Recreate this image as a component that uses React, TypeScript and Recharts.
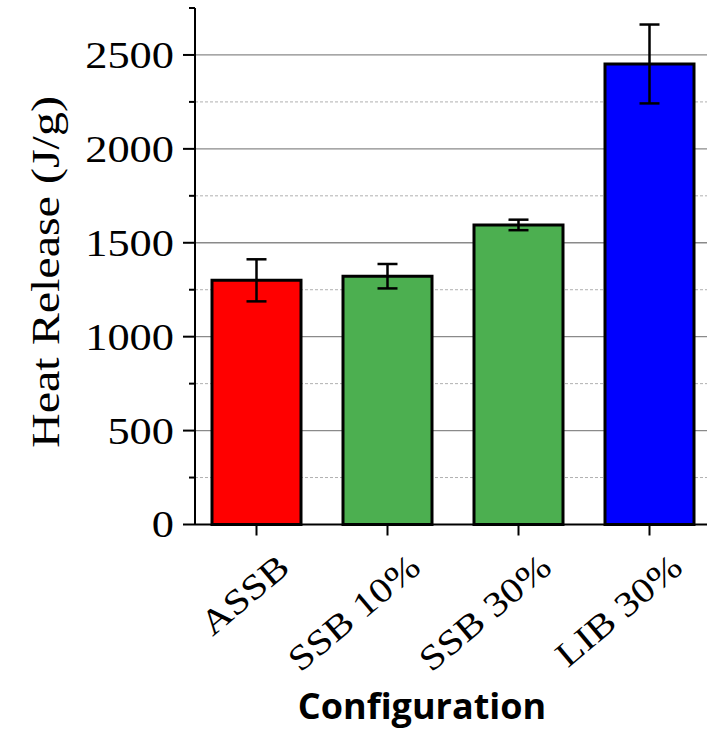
import React from 'react';
import { BarChart, Bar, XAxis, YAxis, CartesianGrid, ErrorBar, Cell, Label } from 'recharts';

const configs = ['ASSB', 'SSB 10%', 'SSB 30%', 'LIB 30%'];
const heatRelease = [1300, 1322, 1595, 2452];
const heatError = [112, 65, 28, 210];
const barColors = ['#ff0000', '#4caf50', '#4caf50', '#0000ff'];

const yTicks = [0, 250, 500, 750, 1000, 1250, 1500, 1750, 2000, 2250, 2500, 2750];
const majorGrid = [500, 1000, 1500, 2000, 2500];
const minorGrid = [250, 750, 1250, 1750, 2250];

const data = configs.map((name, i) => ({ name, value: heatRelease[i], err: heatError[i] }));

const serif = '"Liberation Serif", "Times New Roman", serif';

const YTick = (props: any) => {
    const { x, y, payload } = props;
    const major = payload.value % 500 === 0 && payload.value <= 2500;
    return (
        <g>
            <line x1={x - (major ? 12 : 6)} x2={x} y1={y} y2={y} stroke="#000" strokeWidth={2} />
            {major && (
                <text
                    transform={`translate(${x - 21},${y}) scale(1.2,1)`}
                    textAnchor="end"
                    dy="0.35em"
                    fontSize={37}
                    fontFamily={serif}
                    fill="#000"
                >
                    {payload.value}
                </text>
            )}
        </g>
    );
};

const XTick = (props: any) => {
    const { x, y, payload } = props;
    return (
        <g>
            <line x1={x} x2={x} y1={y} y2={y + 11} stroke="#000" strokeWidth={2} />
            <text
                transform={`translate(${x + 35},${y + 46}) rotate(-40) scale(1.18,1)`}
                textAnchor="end"
                fontSize={35}
                fontFamily={serif}
                fill="#000"
            >
                {payload.value}
            </text>
        </g>
    );
};

export default function App() {
    return (
        <div style={{ position: 'absolute', left: 0, top: 0, width: 707, height: 730, overflow: 'hidden', background: '#fff' }}>
            <BarChart width={720} height={730} data={data} margin={{ top: 8, right: 5, left: 0, bottom: 0 }}>
                <CartesianGrid vertical={false} horizontalValues={minorGrid} stroke="#b0b0b0" strokeDasharray="3 2" />
                <CartesianGrid vertical={false} horizontalValues={majorGrid} stroke="#8a8a8a" strokeWidth={1.3} />
                <XAxis
                    dataKey="name"
                    height={205.5}
                    padding={{ left: -4, right: 0 }}
                    interval={0}
                    tickSize={0}
                    tickMargin={0}
                    tickLine={false}
                    axisLine={{ stroke: '#000', strokeWidth: 2 }}
                    tick={<XTick />}
                >
                    <Label
                        content={(p: any) => (
                            <text
                                x={p.viewBox.x + 227}
                                y={719}
                                textAnchor="middle"
                                fontSize={36}
                                fontWeight="bold"
                                fontFamily='"Open Sans", "Noto Sans", sans-serif'
                                fill="#000"
                            >
                                Configuration
                            </text>
                        )}
                    />
                </XAxis>
                <YAxis
                    width={195}
                    domain={[0, 2750]}
                    ticks={yTicks}
                    interval={0}
                    tickSize={0}
                    tickMargin={0}
                    tickLine={false}
                    axisLine={{ stroke: '#000', strokeWidth: 2 }}
                    tick={<YTick />}
                >
                    <Label
                        content={() => (
                            <text
                                transform="translate(59,272) rotate(-90) scale(1.2,1)"
                                textAnchor="middle"
                                fontSize={40}
                                fontFamily={serif}
                                fill="#000"
                            >
                                Heat Release (J/g)
                            </text>
                        )}
                    />
                </YAxis>
                <Bar dataKey="value" barSize={89} stroke="#000" strokeWidth={3} isAnimationActive={false}>
                    {data.map((d, i) => (
                        <Cell key={d.name} fill={barColors[i]} />
                    ))}
                    <ErrorBar dataKey="err" width={10} stroke="#000" strokeWidth={2.5} isAnimationActive={false} />
                </Bar>
            </BarChart>
        </div>
    );
}
